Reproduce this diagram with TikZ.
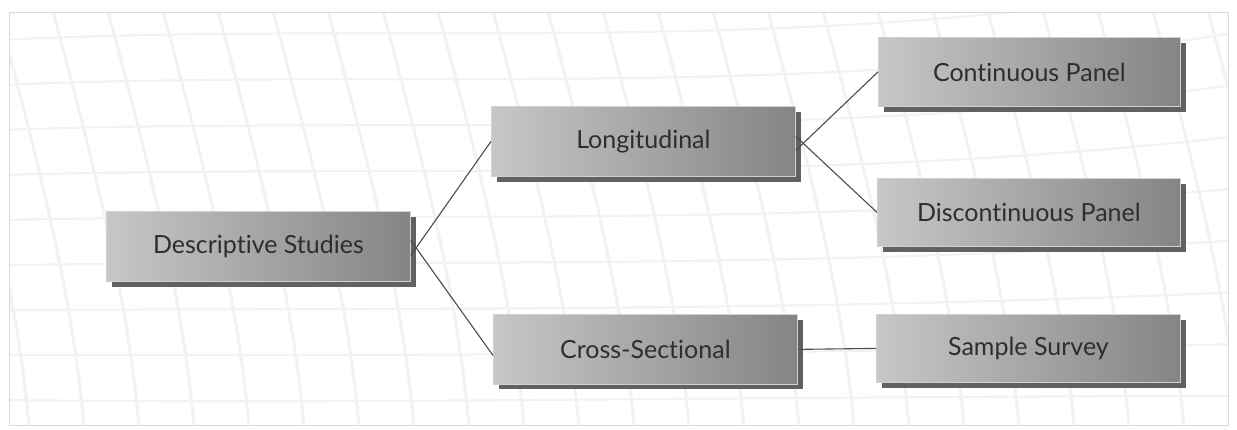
\documentclass[tikz,border=0pt]{standalone}
\usepackage{fontspec}
\setmainfont[Ligatures={NoCommon,NoDiscretionary}]{Lato}
\begin{document}
\begin{tikzpicture}[x=1pt,y=-1pt,
  box/.style={minimum width=304pt,minimum height=70pt,inner sep=0pt,
    left color=black!22,right color=black!48,
    draw=black!18,line width=0.8pt,
    font=\fontsize{25}{28}\selectfont,text=black!82,
    anchor=north west},
  shade/.style={fill=black!62,draw=none},
  conn/.style={draw=black!70,line width=1.1pt},
  gridline/.style={draw=black!5,line width=3pt}]
\useasboundingbox (0,0) rectangle (1237,430);
\fill[white] (0,0) rectangle (1237,430);
% faint background texture
\begin{scope}
\clip (9,13) rectangle (1228,425);
\foreach \i in {0,...,24}{
  \draw[gridline] (-60+\i*55,0) .. controls (-20+\i*55,150) and (20+\i*55,300) .. (30+\i*55,440);
}
\foreach \j in {0,...,9}{
  \draw[gridline,line width=2pt] (0,40+\j*45) .. controls (400,20+\j*48) and (800,60+\j*42) .. (1240,-20+\j*52);
}
\end{scope}
\draw[black!15,line width=1pt] (9,13) rectangle (1228,425);
% shadows
\fill[shade] (112,217) rectangle (416,287);
\fill[shade] (497,112) rectangle (801,182);
\fill[shade] (499,320) rectangle (803,389);
\fill[shade] (884,43) rectangle (1186,112);
\fill[shade] (883,184) rectangle (1186,252);
\fill[shade] (882,320) rectangle (1186,388);
% boxes
\node[box] (ds) at (106,211) {Descriptive Studies};
\node[box] (lon) at (491,106) {Longitudinal};
\node[box] (cs) at (493,314) {Cross-Sectional};
\node[box,minimum width=302pt,minimum height=69pt] (cp) at (878,37) {Continuous Panel};
\node[box,minimum width=303pt,minimum height=68pt] (dp) at (877,178) {Discontinuous Panel};
\node[box,minimum width=304pt,minimum height=68pt] (ss) at (876,314) {Sample Survey};
% connectors
\draw[conn] ([yshift=-9pt]ds.east) -- (lon.west);
\draw[conn] ([yshift=6pt]ds.east) -- ([yshift=-6pt]cs.west);
\draw[conn] ([yshift=-9pt]lon.east) -- (cp.west);
\draw[conn] ([yshift=5pt]lon.east) -- (dp.west);
\draw[conn] (cs.east) -- (ss.west);
\end{tikzpicture}
\end{document}
